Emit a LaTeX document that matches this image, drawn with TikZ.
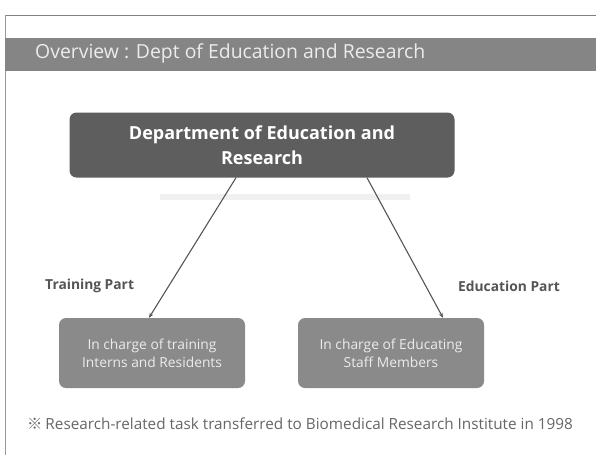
\documentclass[tikz,border=0pt]{standalone}
\usepackage{fontspec}
\setmainfont{Open Sans}
\newfontfamily\cjk{Noto Sans CJK KR}
\usetikzlibrary{arrows.meta}
\definecolor{barcol}{HTML}{858585}
\definecolor{topcol}{HTML}{5E5E5E}
\definecolor{boxcol}{HTML}{8A8A8A}
\definecolor{labcol}{HTML}{555555}
\tikzset{
  x=1pt,y=-1pt,
  topbox/.style={draw=none,fill=topcol,rounded corners=7pt,text=white,font=\bfseries\fontsize{18}{25}\selectfont,align=center,minimum width=385pt,minimum height=65pt,inner sep=0pt},
  subbox/.style={draw=none,fill=boxcol,rounded corners=7pt,text=white!85!gray,font=\fontsize{13.8}{18}\selectfont,align=center,minimum width=186pt,minimum height=70pt,inner sep=0pt},
  partlab/.style={text=labcol,font=\bfseries\fontsize{13.8}{15}\selectfont,inner sep=0pt},
  conn/.style={draw=labcol,line width=1.1pt,-{Stealth[length=5pt,width=4pt]}}
}
\begin{document}
\begin{tikzpicture}
\useasboundingbox (0,0) rectangle (596,455);
\fill[white] (0,0) rectangle (596,455);
% frame lines
\draw[gray,line width=1pt] (5,15) -- (596,15);
\draw[gray!80,line width=0.8pt] (5,15) -- (5,455);
% title bar
\fill[barcol] (5,38) rectangle (596,71);
\node[anchor=west,text=white!85!gray,font=\fontsize{19.4}{22}\selectfont,inner sep=0pt] (title) at (35,53) {Overview : Dept of Education and Research};
% faint band
\fill[gray!12] (160,194) rectangle (410,200);
% top node
\node[topbox] (dept) at (262,145) {Department of Education and\\Research};
% sub boxes
\node[subbox] (train) at (152,353) {In charge of training\\Interns and Residents};
\node[subbox] (edu) at (391,353) {In charge of Educating\\Staff Members};
% connectors
\draw[conn] (dept.south -| 236,0) -- (train.north -| 149,0);
\draw[conn] (dept.south -| 367,0) -- (edu.north -| 443,0);
% labels
\node[partlab,anchor=west] (tpart) at (45,286) {Training Part};
\node[partlab,anchor=east] (epart) at (560,286) {Education Part};
% footnote
\node[anchor=west,text=labcol!90,font=\fontsize{15.3}{17}\selectfont,inner sep=0pt] (note) at (27,424) {{\cjk ※}\hspace{-1pt} Research-related task transferred to Biomedical Research Institute in 1998};
\end{tikzpicture}
\end{document}
